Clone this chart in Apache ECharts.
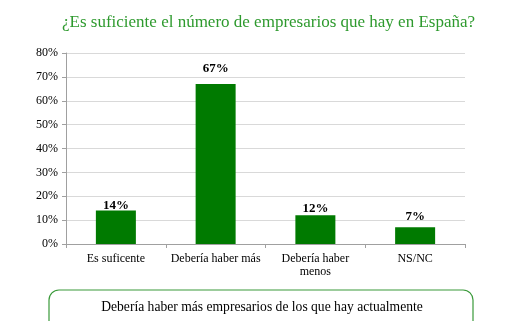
<!DOCTYPE html>
<html><head><meta charset="utf-8">
<script src="https://cdn.jsdelivr.net/npm/echarts@6/dist/echarts.min.js"></script>
<style>html,body{margin:0;padding:0;background:#fff}#c{width:515px;height:321px}</style>
</head><body><div id="c"></div>
<script>
const categories = ['Es suficente', 'Debería haber más', 'Debería haber\nmenos', 'NS/NC'];
const values = [14, 67, 12, 7];
const yTicks = [0, 10, 20, 30, 40, 50, 60, 70, 80];
const titleText = '¿Es suficiente el número de empresarios que hay en España?';
const noteText = 'Debería haber más empresarios de los que hay actualmente';

const labelGaps = [-2, 9, 0, 4];
const chart = echarts.init(document.getElementById('c'), null, {renderer: 'canvas'});
const serif = '"Liberation Serif", "DejaVu Serif", serif';
chart.setOption({
  animation: false,
  backgroundColor: '#fff',
  title: {
    text: titleText, left: 57, top: 9,
    textStyle: {fontFamily: serif, fontSize: 17, fontWeight: 'normal', color: '#2e9a2e'}
  },
  grid: {left: 66, right: 50, top: 53, bottom: 77, containLabel: false},
  xAxis: {
    type: 'category', data: categories,
    axisLine: {lineStyle: {color: '#a0a0a0'}},
    axisTick: {show: true, length: 4, lineStyle: {color: '#a0a0a0'}},
    axisLabel: {fontFamily: serif, fontSize: 12, color: '#000', margin: 8, lineHeight: 13, interval: 0}
  },
  yAxis: {
    type: 'value', min: 0, max: 80, interval: 10,
    axisLine: {show: true, lineStyle: {color: '#a0a0a0'}},
    axisTick: {show: true, length: 4, lineStyle: {color: '#a0a0a0'}},
    axisLabel: {fontFamily: serif, fontSize: 12, color: '#000', margin: 8, formatter: v => yTicks.includes(v) ? v + '%' : ''},
    splitLine: {lineStyle: {color: '#d9d9d9'}}
  },
  series: [{
    type: 'bar', barWidth: 40,
    data: values.map((v, i) => ({value: v, label: {distance: labelGaps[i]}})),
    itemStyle: {color: '#007a00'},
    label: {show: true, position: 'top', formatter: p => p.value + '%',
      fontFamily: serif, fontSize: 13, fontWeight: 'bold', color: '#000'}
  }],
  graphic: [
    {type: 'rect', shape: {x: 49, y: 290, width: 424, height: 50, r: 10},
     style: {fill: '#fff', stroke: '#3a9a3a', lineWidth: 1.2}},
    {type: 'text', x: 262, y: 307, style: {text: noteText, fontFamily: serif, fontSize: 13.6, fill: '#000', align: 'center', verticalAlign: 'middle'}}
  ]
});
</script></body></html>
